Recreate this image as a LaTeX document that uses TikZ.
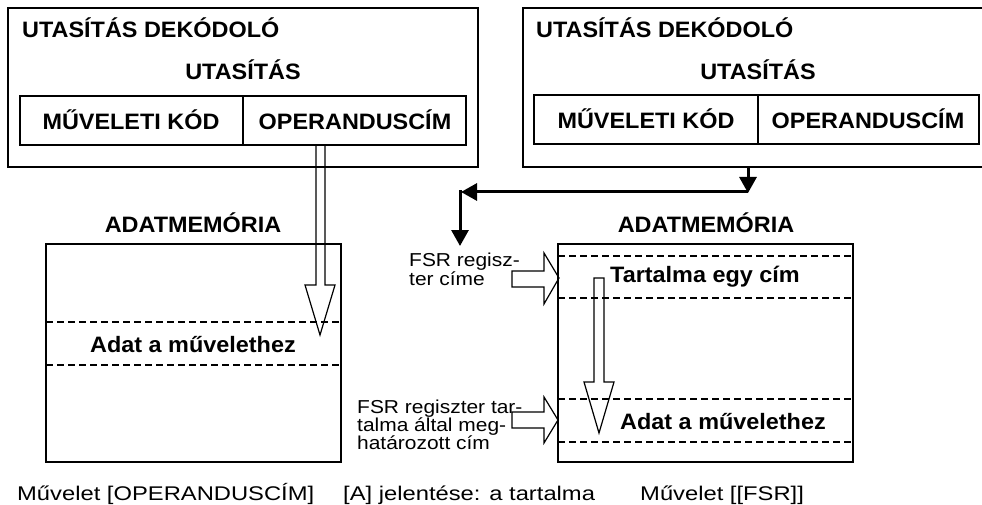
\documentclass[tikz,border=0pt]{standalone}
\usepackage{fontspec}
\setmainfont{Liberation Sans}[FakeStretch=1.12]
\newfontfamily\titlefont{Liberation Sans}[FakeStretch=1.05]
\newfontfamily\bottomfont{Liberation Sans}[FakeStretch=1.2]
\usetikzlibrary{arrows.meta}
\tikzset{
  box/.style={draw, line width=1.4pt},
  sep/.style={draw, line width=1.4pt, dash pattern=on 7pt off 4pt},
  hollow/.style={draw, line width=1.2pt, line join=miter},
  bigtxt/.style={font=\titlefont\fontsize{22.3}{22.3}\selectfont\bfseries, inner sep=0pt},
  smalltxt/.style={font=\fontsize{18.7}{18}\selectfont, inner sep=0pt, align=left},
  bottomtxt/.style={font=\bottomfont\fontsize{19.8}{19.8}\selectfont, inner sep=0pt},
  flow/.style={line width=3pt, -{Triangle[length=16pt, width=17pt]}},
}
\begin{document}
\begin{tikzpicture}[x=1pt, y=-1pt]
\path[use as bounding box] (0,0) rectangle (982,505);
\clip (0,0) rectangle (982,505);
\fill[white] (0,0) rectangle (982,505);

% ---------- left decoder ----------
\draw[box] (8,8) rectangle (478,167);
\node[bigtxt, anchor=base west] (ltitle) at (22,38) {UTASÍTÁS DEKÓDOLÓ};
\node[bigtxt, anchor=base] (lutas) at (243,80) {UTASÍTÁS};
\draw[box] (20,96) rectangle (466,145);
\draw[box] (243,96) -- (243,145);
\node[bigtxt, anchor=base] (lmk) at (131,130) {MŰVELETI KÓD};
\node[bigtxt, anchor=base] (lop) at (355,130) {OPERANDUSCÍM};

% ---------- right decoder ----------
\draw[box] (523,8) rectangle (1000,167);
\node[bigtxt, anchor=base west] (rtitle) at (536,38) {UTASÍTÁS DEKÓDOLÓ};
\node[bigtxt, anchor=base] (rutas) at (758,80) {UTASÍTÁS};
\draw[box] (534,95) rectangle (979,144);
\draw[box] (758,95) -- (758,144);
\node[bigtxt, anchor=base] (rmk) at (646,129) {MŰVELETI KÓD};
\node[bigtxt, anchor=base] (rop) at (868,129) {OPERANDUSCÍM};

% ---------- left memory ----------
\node[bigtxt, anchor=base] (lmem) at (193,233) {ADATMEMÓRIA};
\draw[box] (46,244) rectangle (341,462);
\draw[sep] (46,322) -- (341,322);
\draw[sep] (46,365) -- (341,365);
\node[bigtxt, anchor=base] (ladat) at (193,352) {Adat a művelethez};
\draw[hollow] (316,146) -- (316,285) -- (305,285) -- (320,335) -- (335,285) -- (325,285) -- (325,146);

% ---------- right memory ----------
\node[bigtxt, anchor=base] (rmem) at (706,233) {ADATMEMÓRIA};
\draw[box] (558,244) rectangle (853,462);
\draw[sep] (558,256) -- (853,256);
\draw[sep] (558,298) -- (853,298);
\draw[sep] (558,399) -- (853,399);
\draw[sep] (558,442) -- (853,442);
\node[bigtxt, anchor=base west] (tart) at (610,282) {Tartalma egy cím};
\node[bigtxt, anchor=base east] (radat) at (826,429) {Adat a művelethez};
\draw[hollow] (594,382) -- (594,278) -- (604,278) -- (604,382) -- (614,382) -- (599,433) -- (584,382) -- cycle;

% ---------- black flow arrow ----------
\coordinate (d0) at (748,167);
\coordinate (d1) at (748,193);
\coordinate (h0) at (748,192);
\coordinate (h1) at (461,192);
\coordinate (v0) at (460,190.5);
\coordinate (v1) at (460,246);
\draw[flow] (d0) -- (d1);
\draw[flow] (h0) -- (h1);
\draw[flow] (v0) -- (v1);

% ---------- side labels ----------
\node[smalltxt, anchor=base west] (fsr1) at (409,285) {FSR regisz-\\[1pt]ter címe};
\draw[hollow] (512,271) -- (544,271) -- (544,253) -- (559,278) -- (544,304) -- (544,287) -- (512,287) -- cycle;

\node[smalltxt, anchor=base west] (fsr2) at (357,449) {FSR regiszter tar-\\talma által meg-\\határozott cím};
\draw[hollow] (512,412) -- (544,412) -- (544,397) -- (558,420) -- (544,443) -- (544,428) -- (512,428) -- cycle;

% ---------- bottom ----------
\node[bottomtxt, anchor=base west] (b1) at (17,500) {Művelet [OPERANDUSCÍM]};
\node[bottomtxt, anchor=base west] (b2) at (343,500) {[A] jelentése: a tartalma};
\node[bottomtxt, anchor=base west] (b3) at (640,500) {Művelet [[FSR]]};
\end{tikzpicture}
\end{document}
